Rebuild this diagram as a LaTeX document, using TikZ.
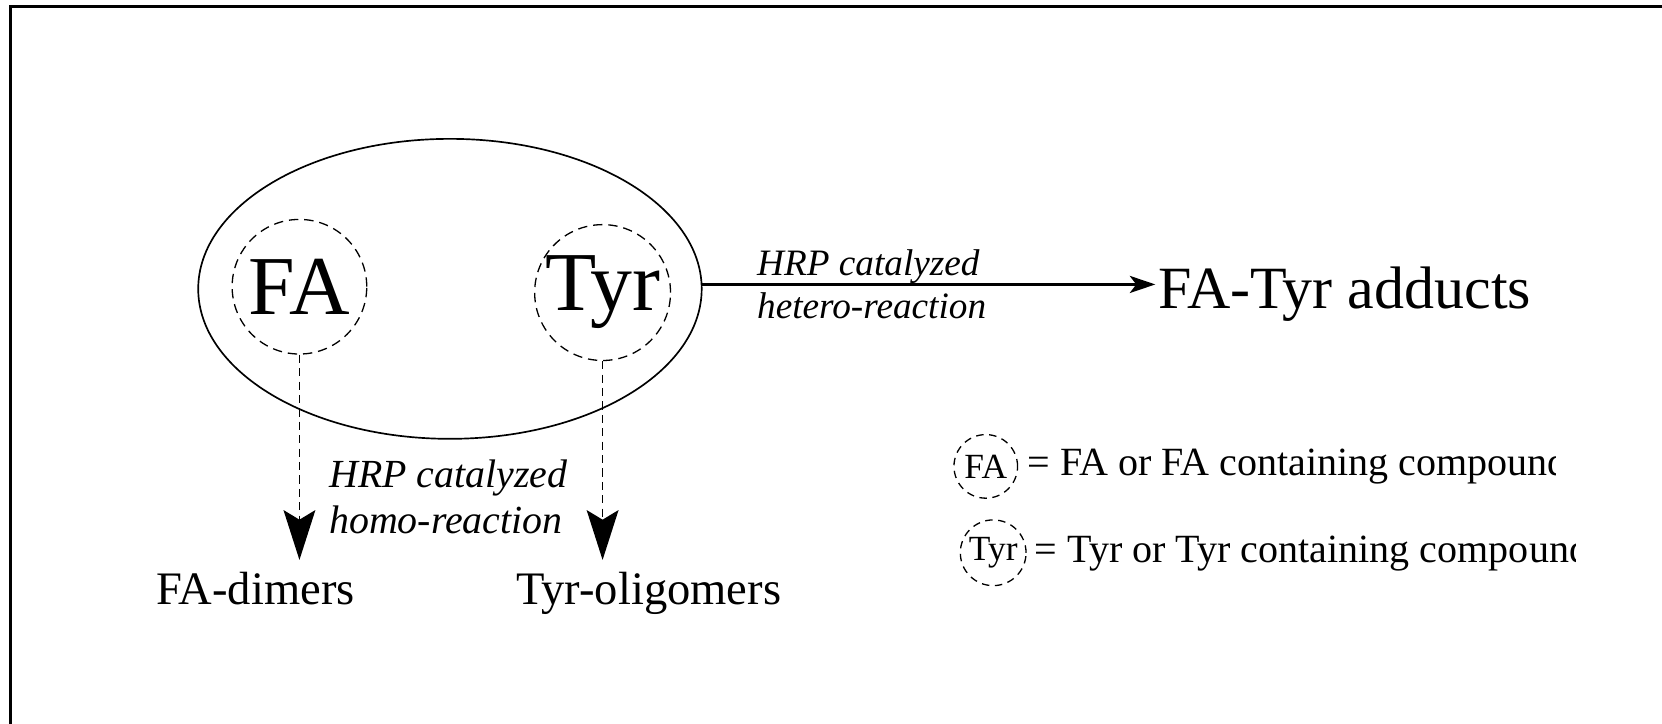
\documentclass[tikz,border=0pt]{standalone}
\usepackage{fontspec}
\setmainfont{Liberation Serif}
\usetikzlibrary{arrows.meta,shapes.geometric,positioning}

\begin{document}
\begin{tikzpicture}[>=latex,
    marco/.style={line width=0.7pt},
    mezcla/.style={ellipse, draw, line width=0.45pt, minimum width=4.75cm, minimum height=2.83cm, inner sep=0pt},
    especie/.style={circle, draw, dash pattern=on 2.5pt off 1.6pt, line width=0.35pt, inner sep=0pt, font=\fontsize{22.5}{26}\selectfont},
    leyenda/.style={circle, draw, dash pattern=on 2pt off 1.5pt, line width=0.35pt, inner sep=0pt, font=\fontsize{9.5}{11}\selectfont},
    textoley/.style={inner sep=0pt, font=\fontsize{10.75}{12.5}\selectfont},
    producto/.style={inner sep=3pt, font=\fontsize{12.5}{14.5}\selectfont},
    reaccion/.style={align=left, inner sep=0pt, font=\itshape\fontsize{10}{11.7}\selectfont},
    homo/.style={line width=0.45pt, dash pattern=on 2.2pt off 1.4pt, -{Stealth[length=0.47cm, width=0.30cm, inset=0.09cm]}},
    hetero/.style={line width=0.95pt, -{Stealth[length=0.24cm, width=0.16cm, inset=0.06cm]}}]
  \useasboundingbox (0,0) rectangle (15.68,6.83);
  % Marco
  \draw[marco] (0.10,-1) |- (17,6.77);
  % Mezcla FA + Tyr
  \node[mezcla] (pool) at (4.245,4.105) {};
  \node[especie, minimum size=1.27cm] (fa) at (2.825,4.125) {FA};
  \node[especie, minimum size=1.28cm] (tyr) at (5.685,4.07) {Tyr};
  % Hetero-reaccion
  \node[inner sep=0.6pt, anchor=base west, font=\fontsize{16.1}{19}\selectfont] (adducts) at (10.90,3.92) {FA-Tyr adducts};
  \draw[hetero] (pool.1) -- node[reaccion, pos=0.117, anchor=west] (heterolbl) {HRP catalyzed\\hetero-reaction} (pool.1 -| adducts.west);
  % Homo-reaccion
  \node[producto, anchor=base] (dimers) at (2.41,1.13) {FA-dimers};
  \node[producto, anchor=base] (oligomers) at (6.12,1.13) {Tyr-oligomers};
  \draw[homo] (fa.south) -- (fa.south |- dimers.north);
  \draw[homo] (tyr.south) -- (tyr.south |- oligomers.north);
  \node[reaccion, anchor=west, font=\itshape\fontsize{10.7}{12.3}\selectfont] (homolbl) at (3.10,2.14) {HRP catalyzed\\homo-reaction};
  % Leyenda
  \node[leyenda, minimum size=0.60cm] (keyfa) at (9.30,2.43) {FA};
  \node[leyenda, minimum size=0.62cm] (keytyr) at (9.37,1.615) {Tyr};
  \begin{scope}
    \clip (0,0) rectangle (14.675,6.83);
    \node[textoley, right=0.08cm of keyfa] (keyfatxt) {= FA or FA containing compound};
  \end{scope}
  \begin{scope}
    \clip (0,0) rectangle (14.865,6.83);
    \node[textoley, right=0.07cm of keytyr] (keytyrtxt) {= Tyr or Tyr containing compound};
  \end{scope}
\end{tikzpicture}
\end{document}
